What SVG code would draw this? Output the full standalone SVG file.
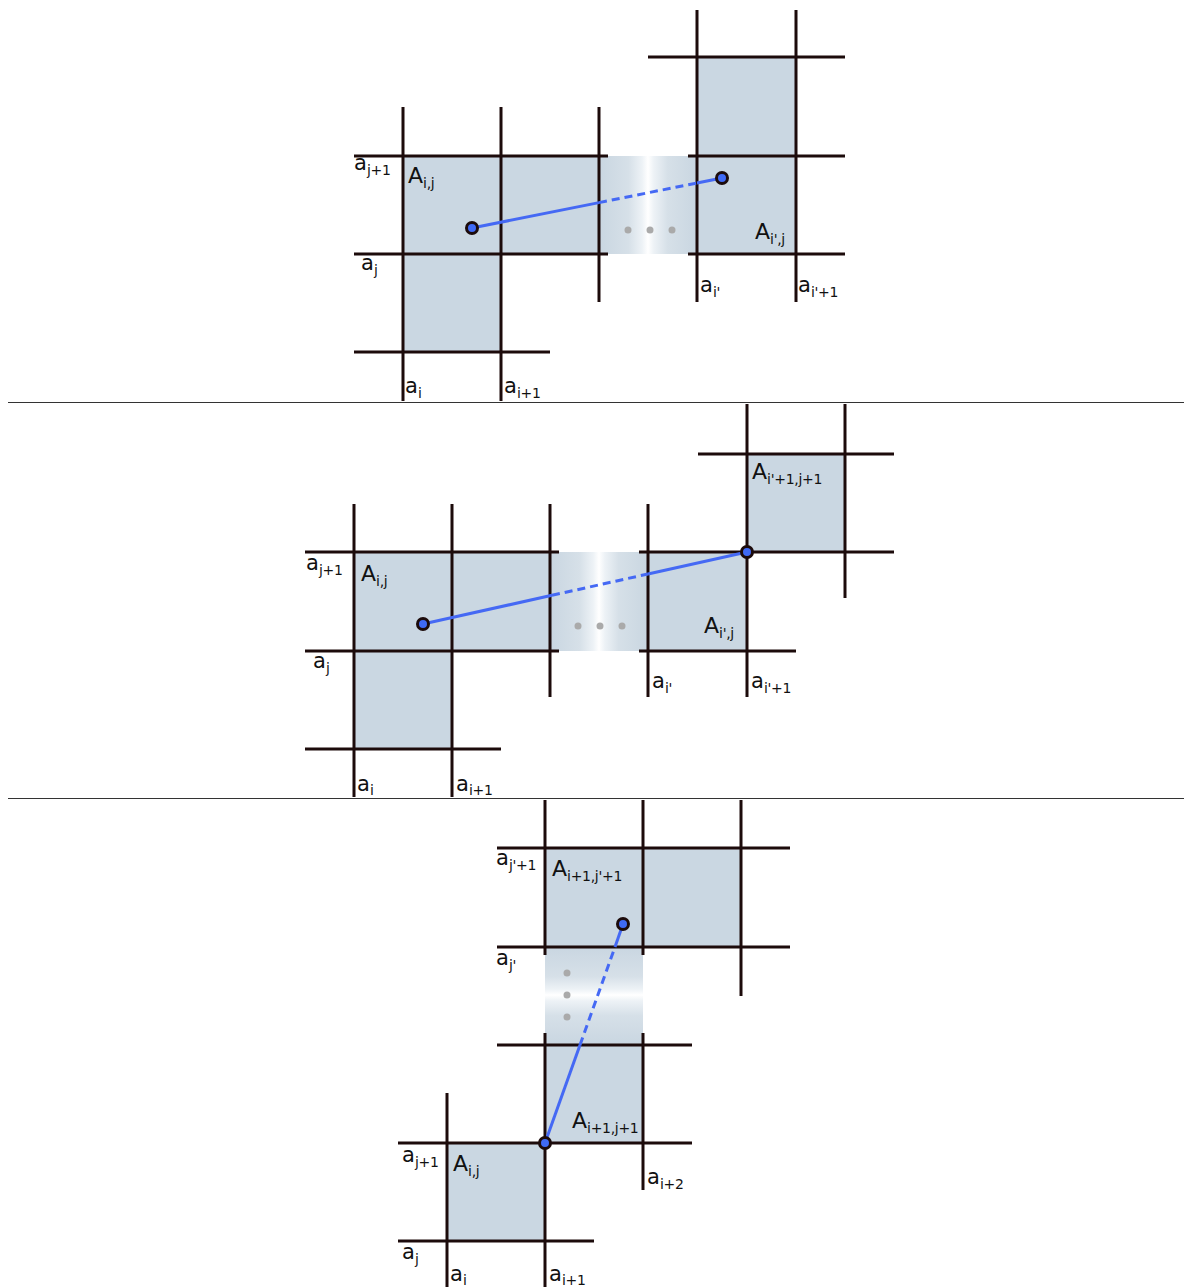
<svg xmlns="http://www.w3.org/2000/svg" width="1184" height="1287" viewBox="0 0 1184 1287">
<style>
.cell{fill:#cad7e2}
.g{stroke:#1c0b0b;stroke-width:3;fill:none}
.sep{stroke:#333;stroke-width:1}
.lbl{font-family:"DejaVu Sans",Verdana,sans-serif;font-size:21px;fill:#111}
.big{font-size:22px}
.sub{font-size:14px;letter-spacing:-0.3px}
.bl{stroke:#4569f4;stroke-width:3;fill:none}
.dash{stroke-dasharray:8 5}
.pt{fill:#3f6af5;stroke:#1c0b0b;stroke-width:3}
.dot{fill:#aaaaaa}
</style>
<defs>
<linearGradient id="gh" x1="0" y1="0" x2="1" y2="0">
<stop offset="0" stop-color="#c9d6e1"/>
<stop offset="0.3" stop-color="#d6e0e8"/>
<stop offset="0.44" stop-color="#edf2f6"/>
<stop offset="0.5" stop-color="#ffffff"/>
<stop offset="0.56" stop-color="#edf2f6"/>
<stop offset="0.7" stop-color="#d6e0e8"/>
<stop offset="1" stop-color="#c9d6e1"/>
</linearGradient>
<linearGradient id="gv" x1="0" y1="0" x2="0" y2="1">
<stop offset="0" stop-color="#c9d6e1"/>
<stop offset="0.3" stop-color="#d6e0e8"/>
<stop offset="0.43" stop-color="#edf2f6"/>
<stop offset="0.49" stop-color="#ffffff"/>
<stop offset="0.55" stop-color="#edf2f6"/>
<stop offset="0.7" stop-color="#d6e0e8"/>
<stop offset="1" stop-color="#c9d6e1"/>
</linearGradient>
</defs>

<!-- separators -->
<line class="sep" x1="8" y1="402.5" x2="1184" y2="402.5"/>
<line class="sep" x1="8" y1="798.5" x2="1184" y2="798.5"/>

<!-- ===== TOP PANEL ===== -->
<g id="top-cells">
<rect class="cell" x="403" y="156" width="98" height="98"/>
<rect class="cell" x="501" y="156" width="98" height="98"/>
<rect class="cell" x="403" y="254" width="98" height="98"/>
<rect x="599" y="156" width="98" height="98" fill="url(#gh)"/>
<rect class="cell" x="697" y="57" width="99" height="99"/>
<rect class="cell" x="697" y="156" width="99" height="98"/>
</g>
<g id="top-grid" class="g">
<line x1="403" y1="107" x2="403" y2="401"/>
<line x1="501" y1="107" x2="501" y2="401"/>
<line x1="599" y1="107" x2="599" y2="302"/>
<line x1="697" y1="10" x2="697" y2="302"/>
<line x1="796" y1="10" x2="796" y2="302"/>
<line x1="648" y1="57" x2="845" y2="57"/>
<line x1="354" y1="156" x2="608" y2="156"/>
<line x1="688" y1="156" x2="845" y2="156"/>
<line x1="354" y1="254" x2="608" y2="254"/>
<line x1="688" y1="254" x2="845" y2="254"/>
<line x1="354" y1="352" x2="550" y2="352"/>
</g>
<g id="top-dots" class="dot">
<circle cx="628" cy="230" r="3.5"/><circle cx="650" cy="230" r="3.5"/><circle cx="672" cy="230" r="3.5"/>
</g>
<g id="top-labels" class="lbl">
<text x="354" y="170">a<tspan class="sub" dy="5">j+1</tspan></text>
<text class="big" x="408" y="183">A<tspan class="sub" dy="5">i,j</tspan></text>
<text x="361" y="270">a<tspan class="sub" dy="5">j</tspan></text>
<text x="405" y="393">a<tspan class="sub" dy="5">i</tspan></text>
<text x="504" y="393">a<tspan class="sub" dy="5">i+1</tspan></text>
<text class="big" x="755" y="239">A<tspan class="sub" dy="5">i',j</tspan></text>
<text x="700" y="292">a<tspan class="sub" dy="5">i'</tspan></text>
<text x="798" y="292">a<tspan class="sub" dy="5">i'+1</tspan></text>
</g>

<!-- ===== MIDDLE PANEL ===== -->
<g id="mid-cells">
<rect class="cell" x="354" y="552" width="98" height="99"/>
<rect class="cell" x="452" y="552" width="98" height="99"/>
<rect class="cell" x="354" y="651" width="98" height="98"/>
<rect x="550" y="552" width="98" height="99" fill="url(#gh)"/>
<rect class="cell" x="648" y="552" width="99" height="99"/>
<rect class="cell" x="747" y="454" width="98" height="98"/>
</g>
<g id="mid-grid" class="g">
<line x1="354" y1="504" x2="354" y2="797"/>
<line x1="452" y1="504" x2="452" y2="797"/>
<line x1="550" y1="504" x2="550" y2="697"/>
<line x1="648" y1="504" x2="648" y2="697"/>
<line x1="747" y1="404" x2="747" y2="697"/>
<line x1="845" y1="404" x2="845" y2="598"/>
<line x1="698" y1="454" x2="894" y2="454"/>
<line x1="305" y1="552" x2="559" y2="552"/>
<line x1="639" y1="552" x2="894" y2="552"/>
<line x1="305" y1="651" x2="559" y2="651"/>
<line x1="639" y1="651" x2="796" y2="651"/>
<line x1="305" y1="749" x2="501" y2="749"/>
</g>
<g id="mid-dots" class="dot">
<circle cx="578" cy="626" r="3.5"/><circle cx="600" cy="626" r="3.5"/><circle cx="622" cy="626" r="3.5"/>
</g>
<g id="mid-labels" class="lbl">
<text x="306" y="570">a<tspan class="sub" dy="5">j+1</tspan></text>
<text class="big" x="361" y="581">A<tspan class="sub" dy="5">i,j</tspan></text>
<text x="313" y="668">a<tspan class="sub" dy="5">j</tspan></text>
<text x="357" y="791">a<tspan class="sub" dy="4">i</tspan></text>
<text x="456" y="791">a<tspan class="sub" dy="4">i+1</tspan></text>
<text class="big" x="752" y="479">A<tspan class="sub" dy="5">i'+1,j+1</tspan></text>
<text class="big" x="704" y="633">A<tspan class="sub" dy="5">i',j</tspan></text>
<text x="652" y="688">a<tspan class="sub" dy="5">i'</tspan></text>
<text x="751" y="688">a<tspan class="sub" dy="5">i'+1</tspan></text>
</g>

<!-- ===== BOTTOM PANEL ===== -->
<g id="bot-cells">
<rect class="cell" x="545" y="848" width="98" height="99"/>
<rect class="cell" x="643" y="848" width="98" height="99"/>
<rect x="545" y="947" width="98" height="98" fill="url(#gv)"/>
<rect class="cell" x="545" y="1045" width="98" height="98"/>
<rect class="cell" x="447" y="1143" width="98" height="98"/>
</g>
<g id="bot-grid" class="g">
<line x1="545" y1="800" x2="545" y2="955"/>
<line x1="643" y1="800" x2="643" y2="955"/>
<line x1="741" y1="800" x2="741" y2="996"/>
<line x1="545" y1="1033" x2="545" y2="1287"/>
<line x1="643" y1="1033" x2="643" y2="1190"/>
<line x1="447" y1="1093" x2="447" y2="1287"/>
<line x1="497" y1="848" x2="790" y2="848"/>
<line x1="497" y1="947" x2="790" y2="947"/>
<line x1="497" y1="1045" x2="692" y2="1045"/>
<line x1="398" y1="1143" x2="692" y2="1143"/>
<line x1="398" y1="1241" x2="594" y2="1241"/>
</g>
<g id="bot-dots" class="dot">
<circle cx="567" cy="973" r="3.5"/><circle cx="567" cy="995" r="3.5"/><circle cx="567" cy="1017" r="3.5"/>
</g>
<g id="bot-labels" class="lbl">
<text x="496" y="865">a<tspan class="sub" dy="5">j'+1</tspan></text>
<text class="big" x="552" y="876">A<tspan class="sub" dy="5">i+1,j'+1</tspan></text>
<text x="496" y="965">a<tspan class="sub" dy="5">j'</tspan></text>
<text class="big" x="572" y="1128">A<tspan class="sub" dy="5">i+1,j+1</tspan></text>
<text x="647" y="1184">a<tspan class="sub" dy="5">i+2</tspan></text>
<text x="402" y="1162">a<tspan class="sub" dy="5">j+1</tspan></text>
<text class="big" x="453" y="1171">A<tspan class="sub" dy="5">i,j</tspan></text>
<text x="402" y="1259">a<tspan class="sub" dy="5">j</tspan></text>
<text x="450" y="1281">a<tspan class="sub" dy="4">i</tspan></text>
<text x="549" y="1281">a<tspan class="sub" dy="4">i+1</tspan></text>
</g>

<!-- ===== CONNECTORS ===== -->
<g id="connectors">
<line class="bl" x1="472" y1="228" x2="599" y2="202.6"/>
<line class="bl dash" x1="599" y1="202.6" x2="697" y2="183"/>
<line class="bl" x1="697" y1="183" x2="722" y2="178"/>

<line class="bl" x1="423" y1="624" x2="552" y2="595.3"/>
<line class="bl dash" x1="552" y1="595.3" x2="648" y2="574"/>
<line class="bl" x1="648" y1="574" x2="747" y2="552"/>

<line class="bl" x1="545" y1="1143" x2="580" y2="1045"/>
<line class="bl dash" x1="580" y1="1045" x2="615" y2="947"/>
<line class="bl" x1="615" y1="947" x2="623" y2="924"/>
</g>
<g id="points">
<circle class="pt" cx="472" cy="228" r="5.5"/>
<circle class="pt" cx="722" cy="178" r="5.5"/>
<circle class="pt" cx="423" cy="624" r="5.5"/>
<circle class="pt" cx="747" cy="552" r="5.5"/>
<circle class="pt" cx="545" cy="1143" r="5.5"/>
<circle class="pt" cx="623" cy="924" r="5.5"/>
</g>
</svg>
